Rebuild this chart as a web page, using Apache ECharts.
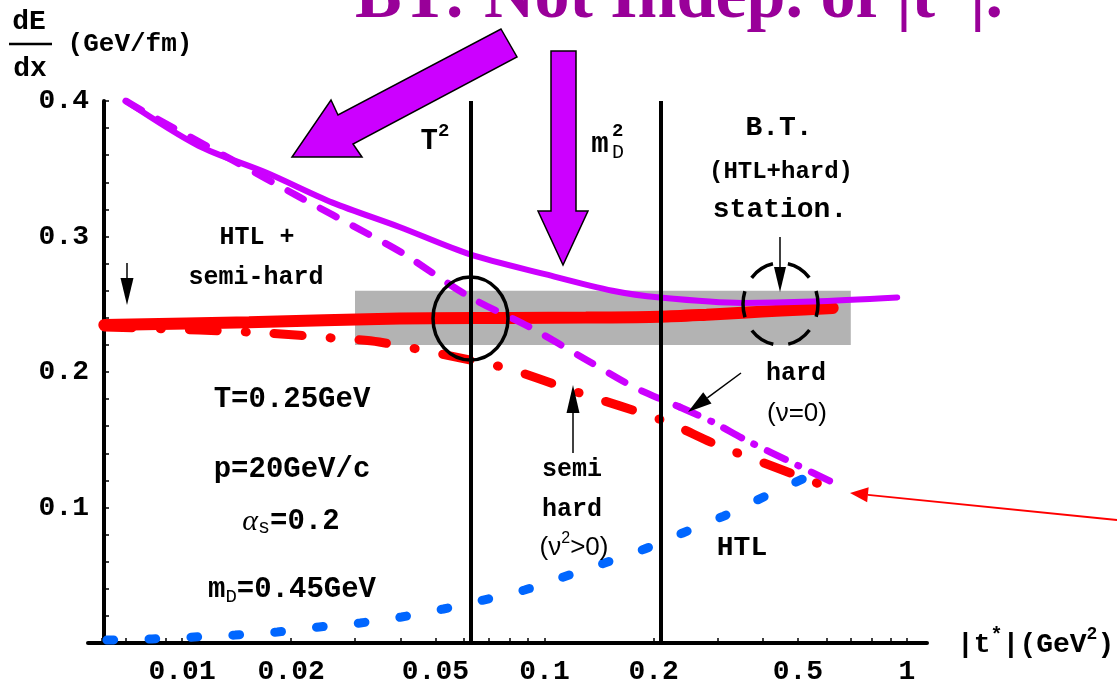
<!DOCTYPE html>
<html><head><meta charset="utf-8">
<script src="https://cdn.jsdelivr.net/npm/echarts@6/dist/echarts.min.js"></script>
<style>html,body{margin:0;padding:0;background:#fff}#c{width:1117px;height:690px}</style>
</head><body><div id="c"></div>
<script>
// ---------------- data ----------------
const xLabelValues = [0.01, 0.02, 0.05, 0.1, 0.2, 0.5, 1];
const xTickValues = [0.006,0.007,0.008,0.009,0.01,0.02,0.03,0.04,0.05,0.06,0.07,0.08,0.09,0.1,0.2,0.3,0.4,0.5,0.6,0.7,0.8,0.9,1];
const yLabelValues = [0.1, 0.2, 0.3, 0.4];

// B.T. total (HTL + hard), purple solid
const totalHardX = [0.007, 0.0111, 0.0171, 0.026, 0.0398, 0.062, 0.101, 0.154, 0.208, 0.352, 0.55, 0.94];
const totalHardY = [0.400, 0.367, 0.347, 0.325, 0.307, 0.287, 0.272, 0.260, 0.255, 0.251, 0.252, 0.255];
// hard (nu=0), purple dashed (dash-dot beyond the split value)
const hardX = [0.007, 0.00775, 0.01374, 0.02104, 0.03222, 0.04053, 0.0621, 0.0909, 0.1306, 0.1784, 0.236, 0.2911, 0.3592, 0.4967, 0.6206];
const hardY = [0.400, 0.393, 0.3565, 0.3292, 0.3026, 0.2878, 0.2554, 0.2332, 0.2089, 0.1882, 0.1742, 0.1631, 0.1498, 0.1314, 0.1188];
const hardSplitX = 0.236;
// HTL + semi-hard total, red thick
const totalSemiX = [0.0061, 0.0153, 0.0398, 0.0816, 0.13, 0.208, 0.28, 0.352, 0.45, 0.624];
const totalSemiY = [0.2347, 0.2367, 0.2395, 0.2399, 0.2402, 0.2408, 0.2423, 0.2438, 0.2453, 0.2472];
// semi hard (nu^2>0), red dash-dot
const semiX = [0.0061, 0.01114, 0.01707, 0.02597, 0.035, 0.0621, 0.0816, 0.1249, 0.2105, 0.2911, 0.335, 0.624];
const semiY = [0.2332, 0.2310, 0.2288, 0.2251, 0.2221, 0.2089, 0.2015, 0.1845, 0.1646, 0.1476, 0.1410, 0.1137];
// HTL, blue dotted
const htlX = [0.0062, 0.00826, 0.01079, 0.014, 0.0183, 0.0239, 0.031, 0.0403, 0.0526, 0.0678, 0.0881, 0.1128, 0.1465, 0.1889, 0.2406, 0.3123, 0.413, 0.5227, 0.5823];
const htlY = [0.0022, 0.0030, 0.0044, 0.0059, 0.0081, 0.0118, 0.0148, 0.0192, 0.0251, 0.0317, 0.0391, 0.0487, 0.0590, 0.0694, 0.0812, 0.0937, 0.1092, 0.1218, 0.1277];

// stationary band and scale markers
const bandX = [0.03, 0.7];
const bandY = [0.22, 0.26];
const scaleLines = [0.0625, 0.209]; // T^2, m_D^2

// ---------------- helpers ----------------
const pairs = (xs, ys) => xs.map((x, i) => [x, ys[i]]);
const MONO = '"Liberation Mono","Courier New",monospace';
const MB = s => `bold ${s}px ${MONO}`;
const MN = s => `${s}px ${MONO}`;
const SR = s => `${s}px "Liberation Sans",Arial,sans-serif`;
const ctx = document.createElement('canvas').getContext('2d');
function measure(t, f) { ctx.font = f; return ctx.measureText(t).width; }
function txt(t, x, y, f, opt) {
  opt = opt || {};
  return { type: 'text', z: 100, x: x, y: y,
    style: { text: t, font: f, fill: opt.fill || '#000', align: opt.align || 'center', verticalAlign: opt.va || 'middle' } };
}
function seq(x, y, parts, align) {
  const w = parts.reduce((s, p) => s + measure(p.t, p.f), 0);
  let cx = align === 'left' ? x : x - w / 2;
  const out = [];
  parts.forEach(p => { out.push(txt(p.t, cx, y + (p.dy || 0), p.f, { align: 'left' })); cx += measure(p.t, p.f); });
  return out;
}
function arrow(x1, y1, x2, y2, color, w, hl, hw) {
  const dx = x2 - x1, dy = y2 - y1, L = Math.hypot(dx, dy);
  const ux = dx / L, uy = dy / L, nx = -uy, ny = ux;
  const bx = x2 - ux * hl, by = y2 - uy * hl;
  return [
    { type: 'line', z: 100, shape: { x1: x1, y1: y1, x2: bx, y2: by }, style: { stroke: color, lineWidth: w } },
    { type: 'polygon', z: 100, shape: { points: [[x2, y2], [bx + nx * hw / 2, by + ny * hw / 2], [bx - nx * hw / 2, by - ny * hw / 2]] }, style: { fill: color } }
  ];
}

const PURPLE = '#cc00ff';
const graphics = [].concat(
  // title (cut off at top)
  [txt('BT: Not Indep. of |t*|.', 355, -1, 'bold 70px "Liberation Serif","Times New Roman",serif', { fill: '#990099', align: 'left' })],
  // big purple arrows
  [{ type: 'polygon', z: 90, shape: { points: [[501,29],[517,57],[353,144],[362,157],[292,157],[331,100],[338,115]] }, style: { fill: PURPLE, stroke: '#000', lineWidth: 1.5 } },
   { type: 'polygon', z: 90, shape: { points: [[551,51],[576,51],[576,211],[588,211],[563,265],[538,211],[551,211]] }, style: { fill: PURPLE, stroke: '#000', lineWidth: 1.5 } }],
  // y axis title
  [txt('dE', 29, 22, MB(28)), txt('dx', 30, 69, MB(28)),
   { type: 'line', z: 100, shape: { x1: 9, y1: 44, x2: 52, y2: 44 }, style: { stroke: '#000', lineWidth: 2.5 } },
   txt('(GeV/fm)', 130, 44, MB(26))],
  // x axis title
  seq(957, 645, [{ t: '|t', f: MB(28) }, { t: '*', f: MB(20), dy: -9 }, { t: '|(GeV', f: MB(28) }, { t: '2', f: MB(18), dy: -11 }, { t: ')', f: MB(28) }], 'left'),
  // T^2 and m_D^2
  seq(435, 142, [{ t: 'T', f: MB(29) }, { t: '2', f: MB(19), dy: -11 }]),
  [txt('m', 600, 145, MB(29)), txt('D', 612, 153, MN(20), { align: 'left' }), txt('2', 612, 131, MB(19), { align: 'left' })],
  // B.T. block
  [txt('B.T.', 779, 128, MB(28)), txt('(HTL+hard)', 781, 172, MB(24)), txt('station.', 780, 210, MB(28))],
  arrow(780, 237, 780, 292, '#000', 1.5, 25, 12),
  [{ type: 'ellipse', z: 95, shape: { cx: 780.5, cy: 304, rx: 37.5, ry: 41 }, style: { fill: null, stroke: '#000', lineWidth: 3.5, lineDash: [26, 15], lineDashOffset: 13 } },
   { type: 'ellipse', z: 95, shape: { cx: 470.5, cy: 318.5, rx: 37.5, ry: 41.5 }, style: { fill: null, stroke: '#000', lineWidth: 3.5 } }],
  // HTL + semi-hard
  [txt('HTL +', 257, 238, MB(25)), txt('semi-hard', 256, 278, MB(25))],
  arrow(127, 263, 127, 305, '#000', 1.5, 27, 13),
  // parameters
  [txt('T=0.25GeV', 292, 400, MB(29)), txt('p=20GeV/c', 292, 470, MB(29))],
  seq(291, 522, [{ t: '\u03b1', f: 'italic 30px "Liberation Serif",serif' }, { t: 's', f: MN(20), dy: 6 }, { t: '=0.2', f: MB(29) }]),
  seq(292, 590, [{ t: 'm', f: MB(29) }, { t: 'D', f: MN(19), dy: 7 }, { t: '=0.45GeV', f: MB(29) }]),
  // semi hard label
  [txt('semi', 572, 470, MB(25)), txt('hard', 572, 510, MB(25))],
  seq(574, 548, [{ t: '(\u03bd', f: SR(26) }, { t: '2', f: SR(16), dy: -9 }, { t: '>0)', f: SR(26) }]),
  arrow(573, 453, 573, 385, '#000', 1.5, 28, 13),
  // hard (nu=0)
  [txt('hard', 796, 374, MB(25)), txt('(\u03bd=0)', 797, 414, SR(26))],
  arrow(741, 373, 688, 412, '#000', 1.5, 24, 14),
  // HTL
  [txt('HTL', 742, 548, MB(28))],
  arrow(1117, 520, 850, 493, '#ff0000', 1.8, 18, 15)
);

const hardAll = pairs(hardX, hardY);
const hardNear = hardAll.filter(p => p[0] <= hardSplitX);
const hardFar = hardAll.filter(p => p[0] >= hardSplitX);

const chart = echarts.init(document.getElementById('c'), null, { renderer: 'canvas' });
chart.setOption({
  animation: false,
  backgroundColor: '#fff',
  grid: { left: 88, right: 190, top: 101, bottom: 47, containLabel: false },
  xAxis: {
    type: 'log', logBase: 10, min: 0.0055, max: 1.136,
    axisLine: { onZero: false, lineStyle: { color: '#000', width: 4 } },
    axisTick: { inside: true, length: 5, lineStyle: { color: '#000', width: 1.5 }, customValues: xTickValues },
    minorTick: { show: false },
    splitLine: { show: false },
    axisLabel: { customValues: xLabelValues, color: '#000', fontFamily: MONO, fontWeight: 'bold', fontSize: 28, margin: 15,
      formatter: v => String(parseFloat(Number(v).toPrecision(2))) }
  },
  yAxis: {
    type: 'value', min: 0, max: 0.4, interval: 0.1, offset: -16,
    axisLine: { onZero: false, lineStyle: { color: '#000', width: 4 } },
    axisTick: { inside: true, length: 5, lineStyle: { color: '#000', width: 1.5 } },
    minorTick: { show: true, splitNumber: 5, length: 5, lineStyle: { color: '#000', width: 1.5 } },
    splitLine: { show: false },
    axisLabel: { color: '#000', fontFamily: MONO, fontWeight: 'bold', fontSize: 28, margin: 15,
      formatter: v => (yLabelValues.some(t => Math.abs(t - v) < 1e-9) ? Number(v).toFixed(1) : '') }
  },
  series: [
    { type: 'line', data: [], silent: true,
      markArea: { silent: true, itemStyle: { color: '#b3b3b3', opacity: 1 },
        data: [[{ coord: [bandX[0], bandY[1]] }, { coord: [bandX[1], bandY[0]] }]] } },
    { type: 'line', data: pairs(htlX, htlY), showSymbol: false, smooth: 0.3, silent: true,
      lineStyle: { color: '#0066ff', width: 9, type: [7, 35], cap: 'round' } },
    { type: 'line', data: pairs(semiX, semiY), showSymbol: false, smooth: 0.3, silent: true,
      lineStyle: { color: '#ff0000', width: 9, type: [28, 28, 1, 28], cap: 'round' } },
    { type: 'line', data: pairs(totalSemiX, totalSemiY), showSymbol: false, smooth: 0.3, silent: true,
      lineStyle: { color: '#ff0000', width: 12, cap: 'round' } },
    { type: 'line', data: hardNear, showSymbol: false, smooth: 0.3, silent: true,
      lineStyle: { color: PURPLE, width: 7, type: [18, 19], cap: 'round' } },
    { type: 'line', data: hardFar, showSymbol: false, smooth: 0.3, silent: true,
      lineStyle: { color: PURPLE, width: 7, type: [20, 14, 1, 14], cap: 'round' } },
    { type: 'line', data: pairs(totalHardX, totalHardY), showSymbol: false, smooth: 0.3, silent: true,
      lineStyle: { color: PURPLE, width: 6, cap: 'round' } },
    { type: 'line', data: [], silent: true,
      markLine: { silent: true, symbol: 'none', label: { show: false },
        lineStyle: { color: '#000', width: 4, type: 'solid' },
        data: scaleLines.map(v => [{ coord: [v, 0] }, { coord: [v, 0.4] }]) } }
  ],
  graphic: graphics
});
</script>
</body></html>
